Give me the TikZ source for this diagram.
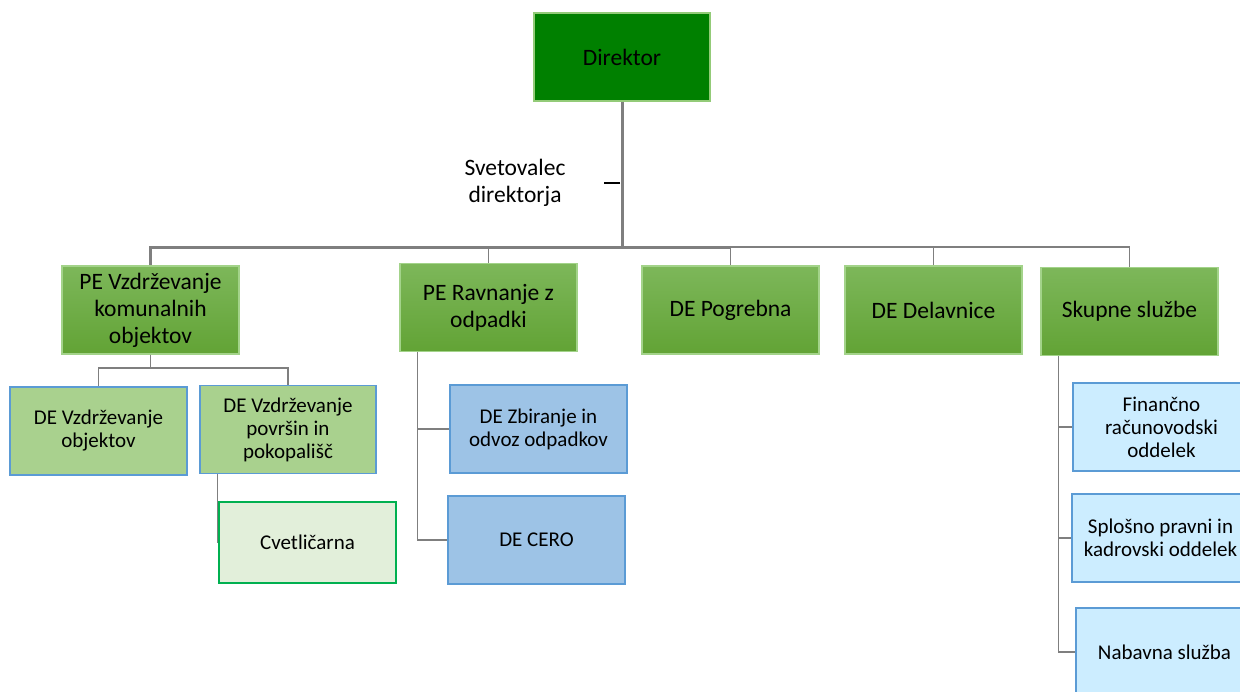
\documentclass[tikz,border=0pt]{standalone}
\usepackage{fontspec}
\setmainfont{Carlito}
\definecolor{dirgreen}{HTML}{008000}
\definecolor{dirborder}{HTML}{93CB78}
\definecolor{gtop}{HTML}{7DB75A}
\definecolor{gbot}{HTML}{62A335}
\definecolor{gborder}{HTML}{A3D38A}
\definecolor{degreen}{HTML}{A9D18E}
\definecolor{bluebd}{HTML}{5B9BD5}
\definecolor{cvfill}{HTML}{E2EFDA}
\definecolor{cvbd}{HTML}{00B050}
\definecolor{midblue}{HTML}{9DC3E6}
\definecolor{ltblue}{HTML}{CCEDFF}
\definecolor{conn}{HTML}{7F7F7F}
\tikzset{
  box/.style={rectangle, inner sep=0pt, align=center, minimum width=177pt, minimum height=88pt, text=black},
  bigtxt/.style={font=\fontsize{23.5}{27}\selectfont},
  smalltxt/.style={font=\fontsize{21}{23}\selectfont},
  dirbox/.style={box, bigtxt, fill=dirgreen, draw=dirborder, line width=1.2pt, minimum width=176pt},
  pebox/.style={box, bigtxt, top color=gtop, bottom color=gbot, draw=gborder, line width=1.2pt},
  debox/.style={box, smalltxt, fill=degreen, draw=bluebd, line width=1.2pt},
  cvbox/.style={box, smalltxt, fill=cvfill, draw=cvbd, line width=1.2pt, minimum height=81pt},
  midbox/.style={box, smalltxt, fill=midblue, draw=bluebd, line width=1.2pt},
  ltbox/.style={box, smalltxt, fill=ltblue, draw=bluebd, line width=1.2pt},
  trunk/.style={draw=conn, line width=3pt},
  link/.style={draw=conn, line width=1.8pt},
}
\begin{document}
\begin{tikzpicture}[x=1pt,y=1pt]
\useasboundingbox (0,0) rectangle (1240,-691);
\clip (0,0) rectangle (1240,-691);
\fill[white] (0,0) rectangle (1240,-691);

% nodes
\node[dirbox] (dir) at (622,-57) {Direktor};
\node[bigtxt, align=center, inner sep=0pt] (svet) at (515,-183) {Svetovalec\\direktorja};

\node[pebox] (pe1) at (150.5,-310) {PE Vzdrževanje\\komunalnih\\objektov};
\node[pebox] (pe2) at (488.5,-307.5) {PE Ravnanje z\\odpadki};
\node[pebox] (pog) at (730.5,-310) {DE Pogrebna};
\node[pebox] (del) at (933.5,-310) {DE Delavnice};
\node[pebox] (sku) at (1129.5,-311.5) {Skupne službe};

\node[debox] (de1) at (98.5,-431) {DE Vzdrževanje\\objektov};
\node[debox, minimum width=176pt] (de2) at (288,-429.5) {DE Vzdrževanje\\površin in\\pokopališč};
\node[cvbox] (cve) at (307.5,-542.5) {Cvetličarna};

\node[midbox] (zbi) at (538.5,-429) {DE Zbiranje in\\odvoz odpadkov};
\node[midbox] (cer) at (536.5,-540) {DE CERO};

\node[ltbox] (fin) at (1161.5,-427) {Finančno\\računovodski\\oddelek};
\node[ltbox] (spl) at (1160.5,-538) {Splošno pravni in\\kadrovski oddelek};
\node[ltbox] (nab) at (1164.5,-652) {Nabavna služba};

% bus coordinate
\coordinate (bus) at (0,-247);

% connectors from director
\draw[link] (dir.south |- bus) -| (pe2.north);
\draw[link] (dir.south |- bus) -| (pog.north);
\draw[link] (dir.south |- bus) -| (del.north);
\draw[link] (dir.south |- bus) -| (sku.north);
\draw[trunk] (dir.south |- bus) -| (pe1.north);
\draw[trunk] (dir.south) -- (dir.south |- bus) -- ++(108,0);

% advisor tick
\coordinate (tick) at (dir.south |- svet);
\draw[black, line width=1.8pt] (tick) ++(-2,0) -- ++(-16,0);

% PE Vzdrzevanje children
\draw[link] (pe1.south) -- ++(0,-13) -| (de1.north);
\draw[link] (pe1.south) -- ++(0,-13) -| (de2.north);
\draw[link] (de2.south west) ++(18,0) |- (cve.west);

% PE Ravnanje children
\draw[link] (pe2.south west) ++(18,0) |- (zbi.west);
\draw[link] (pe2.south west) ++(18,0) |- (cer.west);

% Skupne sluzbe children
\draw[link] (sku.south west) ++(18,0) |- (fin.west);
\draw[link] (sku.south west) ++(18,0) |- (spl.west);
\draw[link] (sku.south west) ++(18,0) |- (nab.west);
\end{tikzpicture}
\end{document}
